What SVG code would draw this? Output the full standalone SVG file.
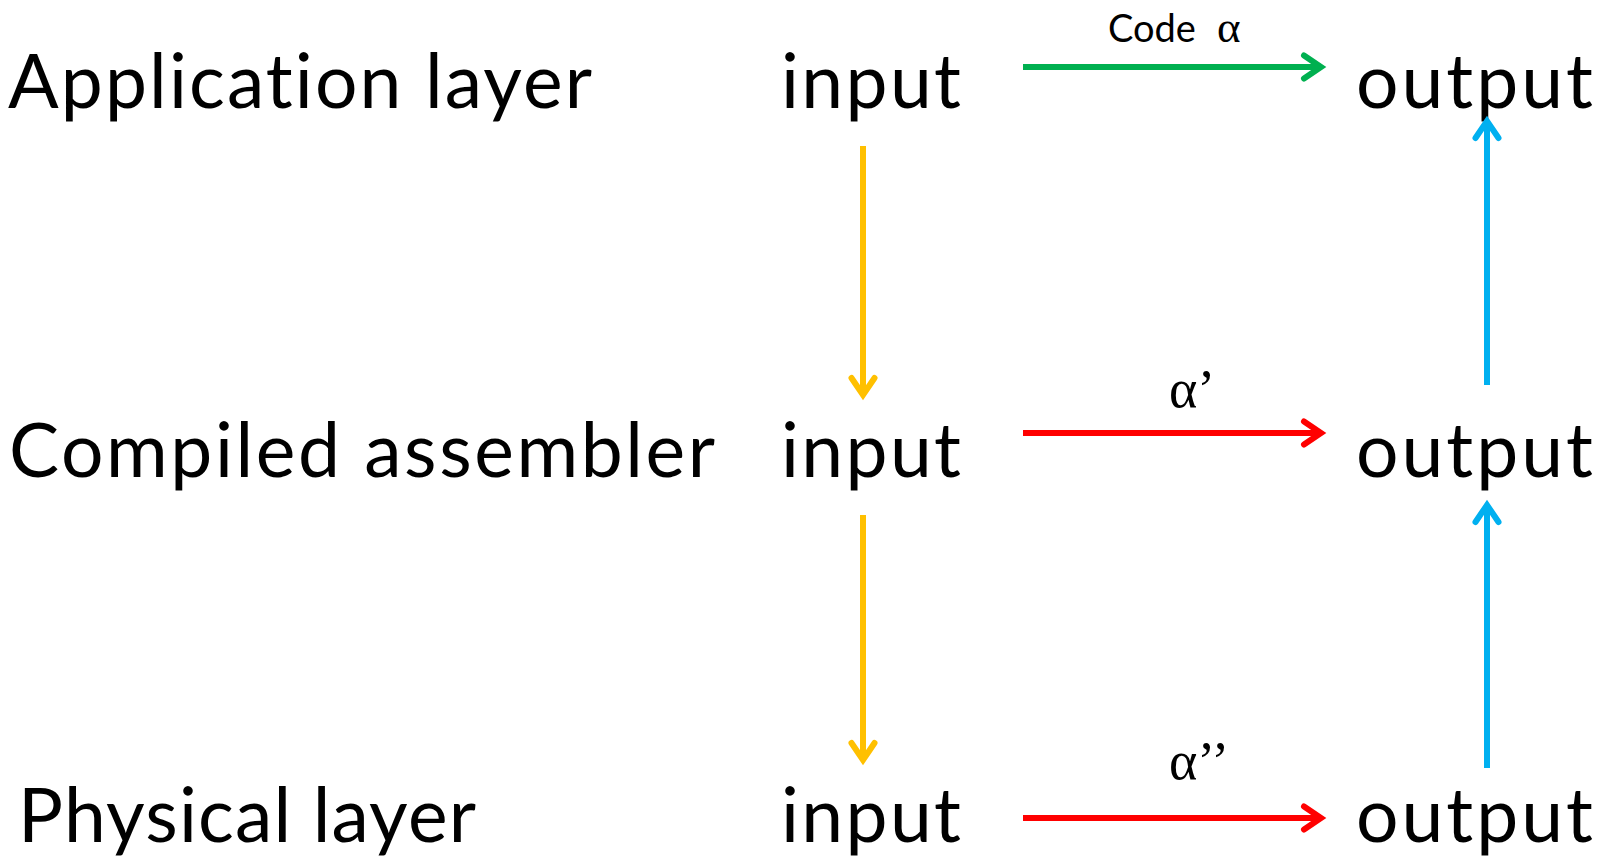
<svg xmlns="http://www.w3.org/2000/svg" width="1604" height="859" viewBox="0 0 1604 859">
  <style>
    .big { font-family: Lato, "Open Sans", "Liberation Sans", sans-serif; font-size: 75px; fill: #000; font-variant-ligatures: none; }
    .small { font-family: Lato, "Open Sans", "Liberation Sans", sans-serif; font-size: 38px; fill: #000; font-variant-ligatures: none; }
    .greek { font-family: "Liberation Serif", "DejaVu Serif", serif; fill: #000; }
    .conn { stroke-width: 6; fill: none; stroke-linecap: butt; }
    .green { stroke: #00B050; }
    .red { stroke: #FF0000; }
    .yellow { stroke: #FFC000; }
    .blue { stroke: #00B0F0; }
  </style>
  <defs>
    <marker id="headGreen" markerUnits="userSpaceOnUse" orient="auto" markerWidth="40" markerHeight="40" refX="0" refY="0" overflow="visible">
      <path d="M-17,-11.5 L0,0 L-17,11.5" fill="none" stroke="#00B050" stroke-width="6" stroke-linecap="round" stroke-linejoin="miter"/>
    </marker>
    <marker id="headRed" markerUnits="userSpaceOnUse" orient="auto" markerWidth="40" markerHeight="40" refX="0" refY="0" overflow="visible">
      <path d="M-17,-11.5 L0,0 L-17,11.5" fill="none" stroke="#FF0000" stroke-width="6" stroke-linecap="round" stroke-linejoin="miter"/>
    </marker>
    <marker id="headYellow" markerUnits="userSpaceOnUse" orient="auto" markerWidth="40" markerHeight="40" refX="0" refY="0" overflow="visible">
      <path d="M-17,-11.5 L0,0 L-17,11.5" fill="none" stroke="#FFC000" stroke-width="6" stroke-linecap="round" stroke-linejoin="miter"/>
    </marker>
    <marker id="headBlue" markerUnits="userSpaceOnUse" orient="auto" markerWidth="40" markerHeight="40" refX="0" refY="0" overflow="visible">
      <path d="M-17,-11.5 L0,0 L-17,11.5" fill="none" stroke="#00B0F0" stroke-width="6" stroke-linecap="round" stroke-linejoin="miter"/>
    </marker>
  </defs>

  <rect width="1604" height="859" fill="#FFFFFF"/>

  <!-- layer labels -->
  <g id="label-application">
    <text class="big" x="8" y="108" textLength="584">Application layer</text>
  </g>
  <g id="label-compiled">
    <text class="big" x="9" y="477" textLength="706">Compiled assembler</text>
  </g>
  <g id="label-physical">
    <text class="big" x="18" y="842" textLength="458">Physical layer</text>
  </g>

  <!-- input / output nodes -->
  <g id="input-application">
    <text class="big" x="781" y="108" textLength="180">input</text>
  </g>
  <g id="output-application">
    <text class="big" x="1356" y="108" textLength="237">output</text>
  </g>
  <g id="input-compiled">
    <text class="big" x="781" y="477" textLength="180">input</text>
  </g>
  <g id="output-compiled">
    <text class="big" x="1356" y="477" textLength="237">output</text>
  </g>
  <g id="input-physical">
    <text class="big" x="781" y="842" textLength="180">input</text>
  </g>
  <g id="output-physical">
    <text class="big" x="1356" y="842" textLength="237">output</text>
  </g>

  <!-- connectors -->
  <g id="connectors">
    <line class="conn green" x1="1023" y1="67" x2="1321" y2="67" marker-end="url(#headGreen)"/>
    <line class="conn red" x1="1023" y1="433" x2="1321" y2="433" marker-end="url(#headRed)"/>
    <line class="conn red" x1="1023" y1="818" x2="1321" y2="818" marker-end="url(#headRed)"/>
    <line class="conn yellow" x1="863" y1="146" x2="863" y2="395" marker-end="url(#headYellow)"/>
    <line class="conn yellow" x1="863" y1="515" x2="863" y2="760" marker-end="url(#headYellow)"/>
    <line class="conn blue" x1="1487" y1="385" x2="1487" y2="121" marker-end="url(#headBlue)"/>
    <line class="conn blue" x1="1487" y1="768" x2="1487" y2="505" marker-end="url(#headBlue)"/>

    <!-- connector labels -->
    <text class="small" y="42"><tspan x="1108">Code</tspan><tspan class="greek" x="1217" font-size="45">α</tspan></text>
    <text class="greek" x="1169" y="407" font-size="54">α’</text>
    <text class="greek" x="1169" y="779" font-size="54">α’’</text>
  </g>
</svg>
